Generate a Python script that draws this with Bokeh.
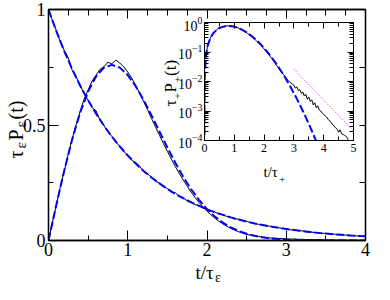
import math
from bokeh.plotting import figure
from bokeh.models import (Range1d, FixedTicker, LinearAxis, LogAxis, Label, Plot,
                          CustomJSTickFormatter, GridBox)
from bokeh.embed import file_html
from bokeh.resources import INLINE

FONT = "Liberation Serif"

# ---------------- data ----------------
# smooth reference curves (blue dashed)
t_fit = [0.0, 0.1, 0.2, 0.3, 0.4, 0.5, 0.6, 0.7, 0.8, 0.9,
         1.0, 1.1, 1.2, 1.3, 1.4, 1.5, 1.6, 1.7, 1.8, 1.9,
         2.0, 2.1, 2.2, 2.3, 2.4, 2.5, 2.6, 2.7, 2.8, 2.9,
         3.0, 3.1, 3.2, 3.3, 3.4, 3.5, 3.6, 3.7, 3.8, 3.9,
         4.0]
decay_fit = [1.000, 0.905, 0.819, 0.741, 0.670, 0.607, 0.549, 0.497, 0.449, 0.407,
             0.368, 0.333, 0.301, 0.273, 0.247, 0.223, 0.202, 0.183, 0.165, 0.150,
             0.135, 0.122, 0.111, 0.100, 0.091, 0.082, 0.074, 0.067, 0.061, 0.055,
             0.050, 0.045, 0.041, 0.037, 0.033, 0.030, 0.027, 0.025, 0.022, 0.020,
             0.018]
peak_fit = [0.0, 0.1559, 0.3044, 0.4391, 0.5541, 0.6454, 0.7103, 0.7483, 0.7602, 0.7483,
            0.7162, 0.6680, 0.6083, 0.5415, 0.4717, 0.4025, 0.3365, 0.2759, 0.2219, 0.1752,
            0.1358, 0.1033, 0.0772, 0.0567, 0.0409, 0.0290, 0.0202, 0.01383, 0.00931, 0.00617,
            0.00401, 0.00257, 0.00162, 0.000999, 0.000608, 0.000364, 0.000214, 0.000124, 0.0000708, 0.0000397,
            0.0000219]
# the peaked fit close to t = 0 (for the log inset)
peak_fit_t0 = [0.0001, 0.001, 0.01, 0.05]
peak_fit_v0 = [0.000157, 0.00157, 0.0157, 0.0784]

# simulated data (black solid)
t_decay = [0.00, 0.05, 0.10, 0.15, 0.20, 0.25, 0.30, 0.35, 0.40, 0.45,
           0.50, 0.55, 0.60, 0.65, 0.70, 0.75, 0.80, 0.85, 0.90, 0.95,
           1.00, 1.05, 1.10, 1.15, 1.20, 1.25, 1.30, 1.35, 1.40, 1.45,
           1.50, 1.55, 1.60, 1.65, 1.70, 1.75, 1.80, 1.85, 1.90, 1.95,
           2.00, 2.05, 2.10, 2.15, 2.20, 2.25, 2.30, 2.35, 2.40, 2.45,
           2.50, 2.55, 2.60, 2.65, 2.70, 2.75, 2.80, 2.85, 2.90, 2.95,
           3.00, 3.05, 3.10, 3.15, 3.20, 3.25, 3.30, 3.35, 3.40, 3.45,
           3.50, 3.55, 3.60, 3.65, 3.70, 3.75, 3.80, 3.85, 3.90, 3.95,
           4.00]
decay_data = [1.000, 0.952, 0.908, 0.858, 0.822, 0.790, 0.736, 0.707, 0.672, 0.634,
              0.608, 0.575, 0.562, 0.520, 0.497, 0.470, 0.451, 0.425, 0.409, 0.385,
              0.370, 0.347, 0.338, 0.322, 0.298, 0.289, 0.274, 0.256, 0.249, 0.233,
              0.225, 0.210, 0.207, 0.190, 0.184, 0.172, 0.167, 0.155, 0.151, 0.141,
              0.136, 0.128, 0.123, 0.115, 0.112, 0.104, 0.101, 0.093, 0.093, 0.085,
              0.083, 0.077, 0.075, 0.070, 0.068, 0.063, 0.062, 0.057, 0.056, 0.052,
              0.051, 0.046, 0.046, 0.042, 0.042, 0.038, 0.037, 0.035, 0.034, 0.031,
              0.031, 0.028, 0.028, 0.025, 0.025, 0.023, 0.023, 0.021, 0.020, 0.019,
              0.018]
t_peak = [0.00, 0.05, 0.10, 0.15, 0.20, 0.25, 0.30, 0.35, 0.40, 0.45,
          0.50, 0.55, 0.60, 0.65, 0.70, 0.75, 0.80, 0.85, 0.90, 0.95,
          1.00, 1.05, 1.10, 1.15, 1.20, 1.25, 1.30, 1.35, 1.40, 1.45,
          1.50, 1.55, 1.60, 1.65, 1.70, 1.75, 1.80, 1.85, 1.90, 1.95,
          2.00, 2.05, 2.10, 2.15, 2.20, 2.25, 2.30, 2.35, 2.40, 2.45,
          2.50, 2.55, 2.60, 2.65, 2.70, 2.75, 2.80, 2.85, 2.90, 2.95,
          3.00, 3.05, 3.10, 3.15, 3.20, 3.25, 3.30, 3.35, 3.40, 3.45,
          3.50, 3.55, 3.60, 3.65, 3.70, 3.75, 3.80, 3.85, 3.90, 3.95,
          4.00, 4.05, 4.10, 4.15, 4.20, 4.25, 4.30, 4.35, 4.40, 4.45,
          4.50, 4.55, 4.60, 4.65, 4.70, 4.75, 4.80, 4.85, 4.90]
peak_data = [0.000, 0.080, 0.155, 0.233, 0.303, 0.376, 0.441, 0.503, 0.560, 0.612,
             0.652, 0.690, 0.716, 0.741, 0.752, 0.772, 0.765, 0.781, 0.768, 0.752,
             0.729, 0.703, 0.672, 0.638, 0.602, 0.566, 0.528, 0.492, 0.456, 0.420,
             0.386, 0.353, 0.320, 0.290, 0.262, 0.235, 0.209, 0.186, 0.164, 0.145,
             0.127, 0.111, 0.0965, 0.0835, 0.0720, 0.0618, 0.0526, 0.0448, 0.0378, 0.0318,
             0.0268, 0.0228, 0.0200, 0.0172, 0.0148, 0.0128, 0.0110, 0.0098, 0.0089, 0.0081,
             0.0075, 0.0060, 0.0066, 0.0049, 0.0053, 0.0040, 0.0044, 0.0032, 0.0037, 0.0025,
             0.0030, 0.0021, 0.0024, 0.0016, 0.0019, 0.0013, 0.0015, 0.0011, 0.0010, 0.00085,
             0.00078, 0.00068, 0.00062, 0.00052, 0.00046, 0.00041, 0.00034, 0.00031, 0.00027, 0.00024,
             0.00019, 0.00023, 0.00017, 0.00016, 0.00015, 0.00014, 0.00012, 0.00008, 0.00005]

# guide line in the inset (magenta dotted)
guide_t = [3.0, 5.0]
guide_v = [0.026, 0.00021]

# ticks
main_x_major = [0, 1, 2, 3, 4]
main_x_minor = [0.5, 1.5, 2.5, 3.5]
main_x_top_minor = [0.25, 0.5, 0.75, 1.25, 1.5, 1.75, 2.25, 2.5, 2.75, 3.25, 3.5, 3.75]
main_y_major = [0, 0.5, 1]
main_y_minor = [0.25, 0.75]
main_y_labels = {0: "0", 0.5: "0.5", 1: "1"}
ins_x_major = [0, 1, 2, 3, 4, 5]
ins_x_minor = [0.5, 1.5, 2.5, 3.5, 4.5]
ins_y_major = [1e-4, 1e-3, 1e-2, 1e-1, 1.0]
ins_y_minor = [k * d for d in (1e-4, 1e-3, 1e-2, 1e-1) for k in range(2, 10)]

BLUE = "#0000ff"
HAS_FRAME_ALIGN = "frame_align" in Plot.properties()


def no_align(fig):
    if HAS_FRAME_ALIGN:
        fig.frame_align = False


def style_axis(ax, major_in, minor_in, size, standoff, lw=1.3):
    ax.major_tick_in = major_in
    ax.major_tick_out = 0
    ax.minor_tick_in = minor_in
    ax.minor_tick_out = 0
    ax.axis_line_color = "black"
    ax.axis_line_width = lw
    ax.major_tick_line_color = "black"
    ax.minor_tick_line_color = "black"
    ax.major_tick_line_width = 1
    ax.minor_tick_line_width = 1
    ax.major_label_text_font = FONT
    ax.major_label_text_font_size = size
    ax.major_label_text_color = "black"
    ax.major_label_standoff = standoff


def mirror_axis(ax, major_in, minor_in, lw):
    style_axis(ax, major_in, minor_in, "1px", 0, lw)
    ax.formatter = CustomJSTickFormatter(code="return ''")


# ---------------- main figure (canvas 374 x 284) ----------------
p = figure(frame_width=317, frame_height=231, x_range=Range1d(0, 4), y_range=Range1d(0, 1),
           output_backend="svg", toolbar_location=None,
           min_border_left=48, min_border_right=9, min_border_top=9, min_border_bottom=44,
           background_fill_color="white", border_fill_color="white",
           outline_line_color="black", outline_line_width=1.3)
no_align(p)
p.grid.visible = False

xb = p.xaxis[0]
xb.ticker = FixedTicker(ticks=main_x_major, minor_ticks=main_x_minor)
style_axis(xb, 10, 5, "18px", 2)
yl = p.yaxis[0]
yl.ticker = FixedTicker(ticks=main_y_major, minor_ticks=main_y_minor)
yl.major_label_overrides = main_y_labels
style_axis(yl, 10, 5, "18px", 3)

xt = LinearAxis(ticker=FixedTicker(ticks=main_x_major, minor_ticks=main_x_top_minor))
mirror_axis(xt, 9, 6, 1.3)
p.add_layout(xt, "above")
yr = LinearAxis(ticker=FixedTicker(ticks=main_y_major, minor_ticks=main_y_minor))
mirror_axis(yr, 6, 6, 1.3)
p.add_layout(yr, "right")

p.line(t_decay, decay_data, line_color="black", line_width=1)
p.line(t_peak, peak_data, line_color="black", line_width=1)
p.line(t_fit, decay_fit, line_color=BLUE, line_width=2, line_dash="8 3")
p.line(t_fit, peak_fit, line_color=BLUE, line_width=2, line_dash="8 3")

# ---------------- inset ----------------
pi = figure(frame_width=149, frame_height=118, x_range=Range1d(0, 5), y_range=Range1d(1e-4, 1),
            y_axis_type="log", output_backend="svg", toolbar_location=None,
            min_border_left=40, min_border_right=6, min_border_top=6, min_border_bottom=22,
            background_fill_color="white", border_fill_alpha=0,
            outline_line_color="black", outline_line_width=1)
no_align(pi)
pi.grid.visible = False
ixb = pi.xaxis[0]
ixb.ticker = FixedTicker(ticks=ins_x_major, minor_ticks=ins_x_minor)
style_axis(ixb, 6, 4, "12px", 3, 1)
iyl = pi.yaxis[0]
iyl.ticker = FixedTicker(ticks=ins_y_major, minor_ticks=ins_y_minor)
style_axis(iyl, 6, 4, "14px", 2, 1)
ixt = LinearAxis(ticker=FixedTicker(ticks=ins_x_major, minor_ticks=ins_x_minor))
mirror_axis(ixt, 6, 4, 1)
pi.add_layout(ixt, "above")
iyr = LogAxis(ticker=FixedTicker(ticks=ins_y_major, minor_ticks=ins_y_minor))
mirror_axis(iyr, 6, 4, 1)
pi.add_layout(iyr, "right")

pi.line(t_peak[1:], peak_data[1:], line_color="black", line_width=1)
pi.line(peak_fit_t0 + t_fit[1:], peak_fit_v0 + peak_fit[1:], line_color=BLUE, line_width=2, line_dash="8 3")
pi.line(guide_t, guide_v, line_color="#ff00ff", line_width=1, line_dash="1 2")
pi.margin = (16, 0, 0, 164)

# ---------------- transparent layer for the axis titles (canvas pixel coordinates) ----------------
pl = figure(frame_width=374, frame_height=284, x_range=Range1d(0, 374), y_range=Range1d(284, 0),
            output_backend="svg", toolbar_location=None, min_border=0,
            x_axis_location=None, y_axis_location=None,
            background_fill_alpha=0, border_fill_alpha=0, outline_line_color=None)
no_align(pl)
pl.grid.visible = False

rot = math.pi / 2
titles = [
    # main y title (rotated)
    ("τ", 15, 158, "20px", rot), ("ε", 20.5, 148, "15px", rot), ("P", 15, 140, "20px", rot),
    ("ε", 20.5, 127, "15px", rot), ("(t)", 15, 119, "20px", rot),
    # main x title
    ("t/τ", 195, 272, "19px", 0), ("ε", 214.5, 277, "14px", 0),
    # inset y title (rotated)
    ("τ", 170, 106, "17px", rot), ("+", 177, 98.5, "11px", rot), ("P", 170, 92, "17px", rot),
    ("+", 177, 82, "11px", rot), ("(t)", 170, 75.5, "17px", rot),
    # inset x title
    ("t/τ", 263, 171, "15px", 0), ("+", 278.5, 179, "11px", 0),
]
for txt, x, y, size, ang in titles:
    pl.add_layout(Label(x=x, y=y, text=txt, angle=ang, text_font=FONT, text_font_size=size,
                        text_color="black", text_align="left", text_baseline="alphabetic"))

layout = GridBox(children=[(p, 0, 0), (pi, 0, 0), (pl, 0, 0)])

open("out.html", "w").write(file_html(layout, INLINE))
